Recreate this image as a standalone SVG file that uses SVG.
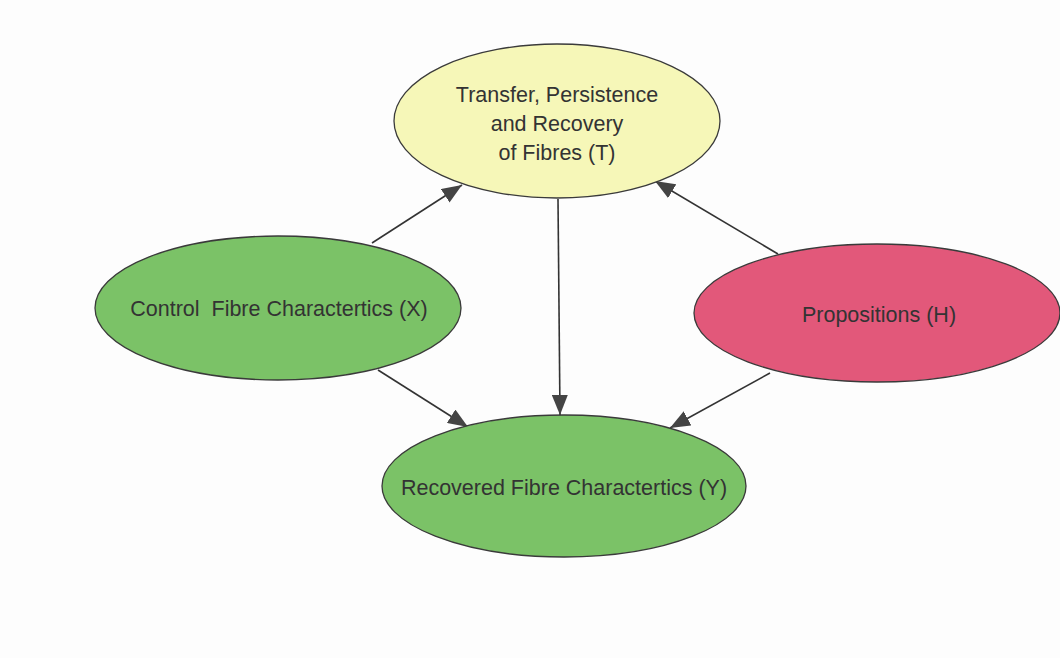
<svg xmlns="http://www.w3.org/2000/svg" width="1060" height="658" viewBox="0 0 1060 658">
  <style>
    .node { stroke: #3a3a3a; stroke-width: 1.3; }
    .t { fill: #f6f7b8; }
    .g { fill: #7bc267; }
    .r { fill: #e2587a; }
    .label { font-family: "Liberation Sans", Arial, sans-serif; font-size: 21.5px; fill: #333333; text-anchor: middle; }
    .edge { stroke: #333333; stroke-width: 1.6; fill: none; marker-end: url(#arrow); }
  </style>
  <defs>
    <marker id="arrow" viewBox="0 0 20 16" refX="20" refY="8" markerWidth="20" markerHeight="16" markerUnits="userSpaceOnUse" orient="auto">
      <path d="M0,0 L20,8 L0,16 Z" fill="#444444"/>
    </marker>
  </defs>
  <rect width="1060" height="658" fill="#fdfdfd"/>

  <g id="connectors">
    <line class="edge" x1="372" y1="243" x2="462" y2="185"/>
    <line class="edge" x1="778" y1="254" x2="655" y2="181"/>
    <line class="edge" x1="558" y1="199" x2="560" y2="415"/>
    <line class="edge" x1="378" y1="370" x2="468" y2="427"/>
    <line class="edge" x1="770" y1="373" x2="670" y2="428"/>
  </g>

  <g id="node-T">
    <ellipse class="node t" cx="557" cy="121" rx="163" ry="77"/>
    <text class="label" x="557" y="102">Transfer, Persistence</text>
    <text class="label" x="557" y="131">and Recovery</text>
    <text class="label" x="557" y="160">of Fibres (T)</text>
  </g>

  <g id="node-X">
    <ellipse class="node g" cx="278" cy="308" rx="183" ry="72"/>
    <text class="label" x="279" y="316" xml:space="preserve">Control  Fibre Charactertics (X)</text>
  </g>

  <g id="node-H">
    <ellipse class="node r" cx="877" cy="313" rx="183" ry="69"/>
    <text class="label" x="879" y="322">Propositions (H)</text>
  </g>

  <g id="node-Y">
    <ellipse class="node g" cx="564" cy="486" rx="182" ry="71"/>
    <text class="label" x="564" y="495">Recovered Fibre Charactertics (Y)</text>
  </g>
</svg>
